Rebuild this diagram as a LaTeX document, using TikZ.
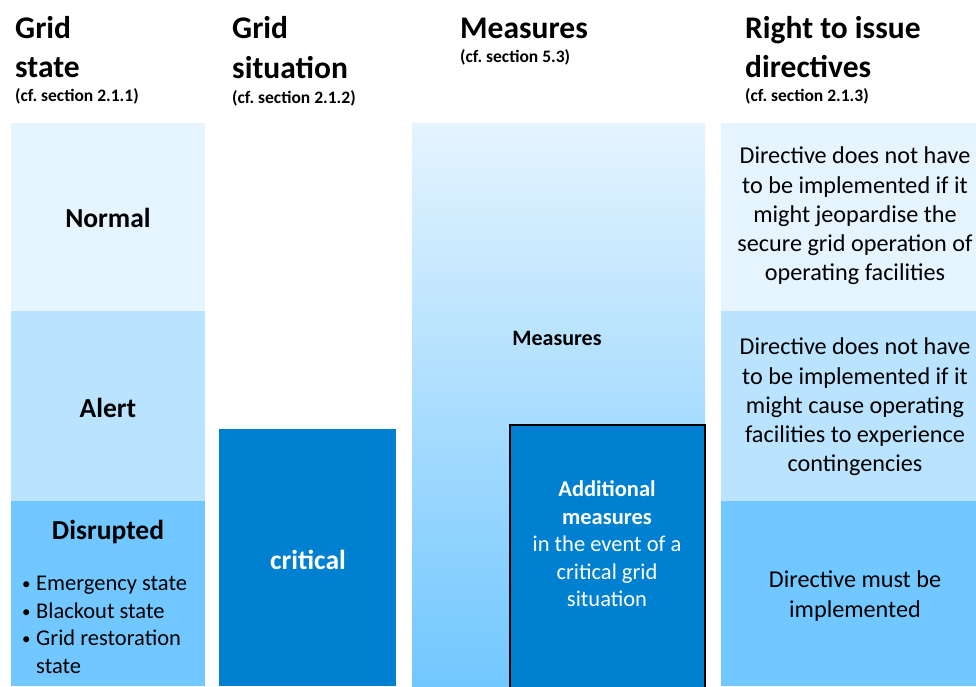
\documentclass[tikz,border=0pt]{standalone}
\usepackage{fontspec}
\setmainfont{Carlito}
\definecolor{bandA}{HTML}{E5F4FE}
\definecolor{bandB}{HTML}{B9E3FE}
\definecolor{bandC}{HTML}{71C7FF}
\definecolor{dark}{HTML}{0080D0}
\tikzset{
  hdr/.style={anchor=base west, inner sep=0pt, font=\bfseries\fontsize{31.5}{38}\selectfont},
  sub/.style={anchor=base west, inner sep=0pt, font=\bfseries\fontsize{17.5}{20}\selectfont},
  state/.style={inner sep=0pt, font=\bfseries\fontsize{27.5}{33}\selectfont},
  body/.style={inner sep=0pt, align=center, font=\fontsize{24.2}{29.3}\selectfont},
  small/.style={inner sep=0pt, align=center, font=\fontsize{22.5}{27.5}\selectfont}
}
\newcommand{\blt}{\makebox[14pt][l]{\raisebox{1pt}{\fontsize{17}{17}\selectfont •}}}
\begin{document}
\begin{tikzpicture}[x=1pt,y=-1pt]
\useasboundingbox (0,0) rectangle (976,686);
% column 1 bands
\fill[bandA] (11,123) rectangle (205,311);
\fill[bandB] (11,311) rectangle (205,501);
\fill[bandC] (11,501) rectangle (205,686);
% column 2
\fill[dark] (219,429) rectangle (396,686);
% column 3 gradient
\shade[top color=bandA, bottom color=bandC] (412,123) rectangle (705,686);
\draw[line width=2.5pt, fill=dark] (510,425) rectangle (705,690);
% column 4 bands
\fill[bandA] (721,123) rectangle (976,311);
\fill[bandB] (721,311) rectangle (976,501);
\fill[bandC] (721,501) rectangle (976,686);

% headers
\node[hdr] (h1a) at (15,38) {Grid};
\node[hdr] (h1b) at (15,77) {state};
\node[sub] (h1c) at (15,101) {(cf.\ section 2.1.1)};
\node[hdr] (h2a) at (232,38) {Grid};
\node[hdr] (h2b) at (232,78) {situation};
\node[sub] (h2c) at (232,103) {(cf.\ section 2.1.2)};
\node[hdr] (h3a) at (460,38) {Measures};
\node[sub] (h3c) at (460,62) {(cf.\ section 5.3)};
\node[hdr] (h4a) at (745,38) {Right to issue};
\node[hdr] (h4b) at (745,77) {directives};
\node[sub] (h4c) at (745,101) {(cf.\ section 2.1.3)};

% column 1 text
\node[state] (normal) at (108,218) {Normal};
\node[state] (alert) at (108,408) {Alert};
\node[state] (disr) at (108,532) {Disrupted};
\node[small, align=left, anchor=west] (list) at (22,625)
  {\blt Emergency state\\
   \blt Blackout state\\
   \blt Grid restoration\\
   \makebox[14pt][l]{}state};

% column 2 text
\node[state, text=white] (crit) at (308,560) {critical};

% column 3 text
\node[inner sep=0pt, font=\bfseries\fontsize{22}{26}\selectfont] (meas) at (557,338) {Measures};
\node[small, text=white] (add) at (607,544)
  {\textbf{Additional}\\\textbf{measures}\\in the event of a\\critical grid\\situation};

% column 4 text
\node[body] (d1) at (855,216) {Directive does not have\\to be implemented if it\\might jeopardise the\\secure grid operation of\\operating facilities};
\node[body] (d2) at (855,407) {Directive does not have\\to be implemented if it\\might cause operating\\facilities to experience\\contingencies};
\node[body] (d3) at (855,596) {Directive must be\\implemented};
\end{tikzpicture}
\end{document}
